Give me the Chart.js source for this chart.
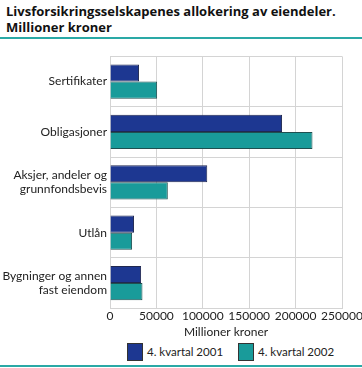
<!DOCTYPE html>
<html>
<head>
<meta charset="utf-8">
<script src="https://cdn.jsdelivr.net/npm/chart.js@4"></script>
<style>
  body { margin: 0; width: 362px; height: 368px; background: #fff; font-family: "Open Sans", sans-serif; }
  #title { position: absolute; left: 6px; top: 3px; width: 356px; font-weight: bold; font-size: 13px; line-height: 16px; color: #111; }
  #topline { position: absolute; left: 0; top: 37px; width: 362px; height: 2px; background: #2aa9a6; }
  #bottomline { position: absolute; left: 0; top: 365px; width: 362px; height: 2px; background: #2aa9a6; }
  #wrap { position: absolute; left: 0; top: 39px; width: 362px; height: 300px; }
  .key { position: absolute; top: 343px; height: 18px; font-family: Lato, sans-serif; font-size: 11.5px; line-height: 18px; color: #222; white-space: nowrap; }
  .key span { display: inline-block; width: 14px; height: 16px; border: 1px solid #333; vertical-align: top; margin-right: 4px; }
</style>
</head>
<body>
<div id="title">Livsforsikringsselskapenes allokering av eiendeler.<br>Millioner kroner</div>
<div id="topline"></div>
<div id="wrap"><canvas id="chart"></canvas></div>
<div id="legend"></div>
<div id="bottomline"></div>
<script>
const categories = [
    'Sertifikater',
    'Obligasjoner',
    ['Aksjer, andeler og', 'grunnfondsbevis'],
    'Utlån',
    ['Bygninger og annen', 'fast eiendom']
];
const seriesNames = ['4. kvartal 2001', '4. kvartal 2002'];
const series2001 = [31300, 185400, 104800, 25900, 33500];
const series2002 = [50800, 218200, 62300, 23800, 35000];
const xTicks = [0, 50000, 100000, 150000, 200000, 250000];
const colors = ['#1d3791', '#199b9a'];

const tickFont = { family: 'Lato', size: 12 };

// legend drawn as html, one key per series
const legendLeft = [127, 238];
seriesNames.forEach((name, i) => {
    const d = document.createElement('div');
    d.className = 'key';
    d.style.left = legendLeft[i] + 'px';
    d.innerHTML = '<span style="background:' + colors[i] + '"></span>' + name;
    document.getElementById('legend').appendChild(d);
});

new Chart(document.getElementById('chart'), {
    type: 'bar',
    data: {
        labels: categories,
        datasets: [
            { label: seriesNames[0], data: series2001, backgroundColor: colors[0], borderColor: '#202850', borderWidth: 1, borderSkipped: 'left' },
            { label: seriesNames[1], data: series2002, backgroundColor: colors[1], borderColor: '#1f4f50', borderWidth: 1, borderSkipped: 'left' }
        ]
    },
    options: {
        indexAxis: 'y',
        responsive: true,
        maintainAspectRatio: false,
        animation: false,
        layout: { padding: { top: 6, left: 0, right: 0, bottom: 0 } },
        datasets: { bar: { categoryPercentage: 0.68, barPercentage: 1.0 } },
        plugins: {
            legend: { display: false },
            tooltip: { enabled: false }
        },
        scales: {
            x: {
                min: 0, max: 250000,
                afterBuildTicks: axis => { axis.ticks = xTicks.map(v => ({ value: v })); },
                afterFit: scale => { scale.paddingRight = 20; },
                grid: { color: '#d4d4d4', drawTicks: false },
                border: { color: '#d4d4d4' },
                ticks: { color: '#222', font: tickFont, padding: 1, maxRotation: 0, autoSkip: false, callback: v => String(v) },
                title: { display: true, text: 'Millioner kroner', color: '#222', font: tickFont, padding: { top: 0, bottom: 0 } }
            },
            y: {
                grid: { color: '#d4d4d4', drawTicks: false, offset: true },
                border: { color: '#d4d4d4' },
                ticks: { color: '#222', font: tickFont, padding: 3 },
                afterFit: scale => { scale.width = 110; }
            }
        }
    }
});
</script>
</body>
</html>
